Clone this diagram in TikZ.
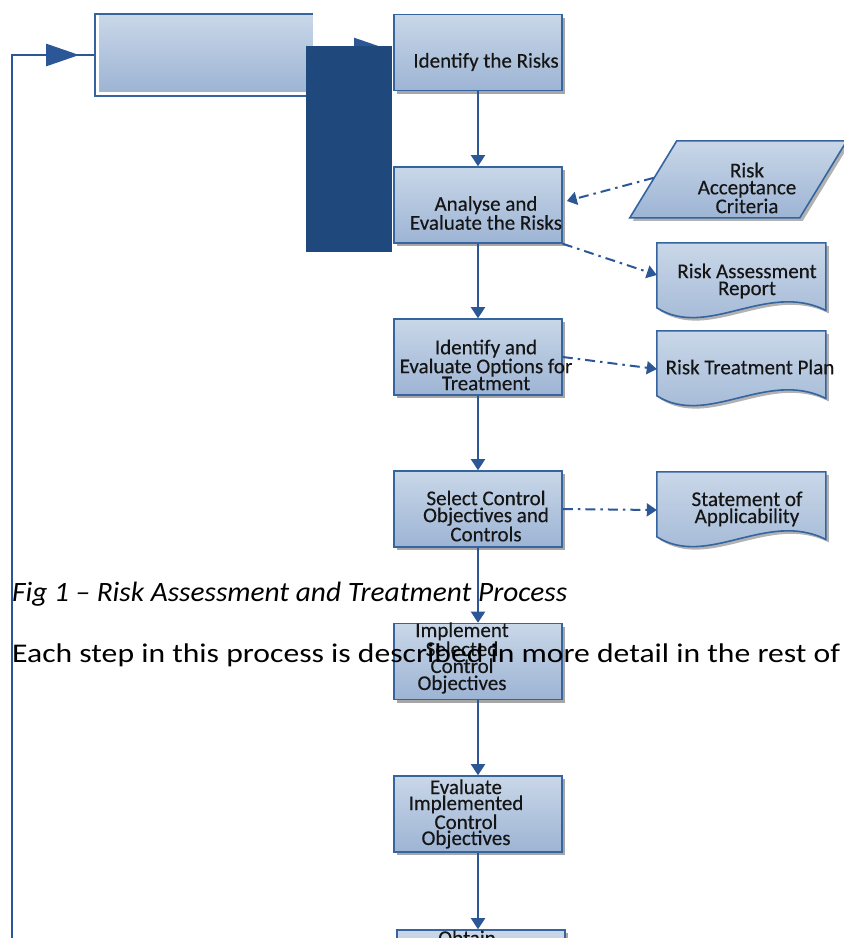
\documentclass[tikz,border=0pt]{standalone}
\usepackage{fontspec}
\setmainfont{Carlito}
\newfontfamily\labelfont[FakeBold=0.3]{Carlito}
\usetikzlibrary{arrows.meta,calc,shadows,decorations.markings}

\definecolor{flowblue}{HTML}{2B5797}
\definecolor{edgeblue}{HTML}{35649F}
\definecolor{fillTop}{HTML}{C9D7E8}
\definecolor{fillBot}{HTML}{9DB4D4}
\definecolor{navy}{HTML}{1F497D}
\definecolor{inkgray}{HTML}{151515}

\tikzset{
  procbox/.style={draw=edgeblue, line width=1.6pt, top color=fillTop, bottom color=fillBot,
    minimum width=168pt, minimum height=76pt, inner sep=0pt,
    drop shadow={shadow xshift=3pt, shadow yshift=-3pt, opacity=0.35, fill=black}},
  boxtext/.style={align=center, text=inkgray, font=\labelfont\fontsize{21}{17}\selectfont, inner sep=0pt},
  flow/.style={color=flowblue, line width=2pt, -{Triangle[length=11pt,width=14pt]}},
  feed/.style={color=flowblue, line width=2pt, dash pattern=on 10pt off 5pt on 2.5pt off 5pt,
    -{Triangle[length=10pt,width=13pt]}},
  area/.style={inner sep=0pt, draw=none},
  outline/.style={draw=edgeblue, line width=1.6pt, top color=fillTop, bottom color=fillBot},
  shadowfill/.style={fill=black, opacity=0.3},
  loopline/.style={color=flowblue, line width=2.5pt},
}

\begin{document}
\begin{tikzpicture}[x=1pt,y=-1pt]
\fill[white] (0,0) rectangle (844,938);
\useasboundingbox (0,0) rectangle (844,938);

% start block with its open frame
\node[draw=edgeblue, line width=1.6pt, minimum width=217pt, minimum height=82pt, inner sep=0pt] (tl) at (203.5,55) {};
\fill[top color=fillTop, bottom color=fillBot] ([shift={(5,2)}]tl.north west) rectangle ([shift={(0,-5)}]tl.south east);

% process steps
\node[procbox] (b1) at (478,52.5) {};
\node[procbox] (b2) at (478,205) {};
\node[procbox] (b3) at (478,357) {};
\node[procbox] (b4) at (478,509) {};
\node[procbox] (b5) at (478,661.5) {};
\node[procbox] (b6) at (478,814) {};
\node[procbox] (b7) at (481,968) {};

% feedback loop into the start block
\coordinate (loopin) at (12,960);
\draw[loopline, postaction={decorate},
  decoration={markings, mark=at position -15pt with {\arrow{Triangle[length=33pt,width=22pt]}}}]
  (loopin) |- (tl.west);

% start block to first step
\draw[color=flowblue, line width=2pt, -{Triangle[length=33pt,width=22pt]}, shorten >=6pt]
  ([yshift=6pt]tl.east) -- ([yshift=3.5pt]b1.west);

% dark panel
\fill[navy] (306,46) rectangle (392,252);

% document outputs
\node[area, minimum width=169pt, minimum height=76pt] (rep) at (741.5,281) {};
\node[area, minimum width=169pt, minimum height=76pt] (plan) at (741.5,369) {};
\node[area, minimum width=169pt, minimum height=76pt] (soa) at (741.5,510) {};
\foreach \d in {rep,plan,soa}{
  \begin{scope}[shift={(\d.north west)}]
    \fill[shadowfill, shift={(3,3)}] (0,0) -- (169,0) -- (169,67.6) .. controls (110,38) and (50.7,97) .. (0,65) -- cycle;
    \draw[outline] (0,0) -- (169,0) -- (169,67.6) .. controls (110,38) and (50.7,97) .. (0,65) -- cycle;
  \end{scope}
}

% acceptance criteria input
\node[area, minimum width=217pt, minimum height=77pt] (crit) at (738.5,179.5) {};
\begin{scope}[shift={(crit.north west)}]
  \fill[shadowfill, shift={(3,3)}] (47,0) -- (217,0) -- (170,77) -- (0,77) -- cycle;
  \draw[outline] (47,0) -- (217,0) -- (170,77) -- (0,77) -- cycle;
  \coordinate (critL) at (24,37);
\end{scope}

% labels
\node[boxtext] (t1) at (486,62) {Identify the Risks};
\node[boxtext] (t2) at (486,213) {Analyse and\\Evaluate the Risks};
\node[boxtext] (t3) at (486,365) {Identify and\\Evaluate Options for\\Treatment};
\node[boxtext] (t4) at (486,516) {Select Control\\Objectives and\\Controls};
\node[boxtext] (t5) at (462,658) {Implement\\Selected\\Control\\Objectives};
\node[boxtext, font=\labelfont\fontsize{21}{16}\selectfont] (t6) at (466,814) {Evaluate\\Implemented\\Control\\Objectives};
\node[boxtext, anchor=base] (t7) at (467,945) {Obtain};
\node[boxtext] (d1) at (747,188) {Risk\\Acceptance\\Criteria};
\node[boxtext] (d2) at (747,281) {Risk Assessment\\Report};
\node[boxtext] (d3) at (750,367) {Risk Treatment Plan};
\node[boxtext] (d4) at (747,509) {Statement of\\Applicability};

% main flow
\draw[flow] (b1.south) -- (b2.north);
\draw[flow] (b2.south) -- (b3.north);
\draw[flow] (b3.south) -- (b4.north);
\draw[flow] (b4.south) -- (b5.north);
\draw[flow] (b5.south) -- (b6.north);
\draw[flow] (b6.south) -- ([xshift=-3pt]b7.north);

% inputs and outputs
\draw[feed] (critL) -- ([shift={(4,-4)}]b2.east);
\draw[feed] (b2.south east) -- ([yshift=6pt]rep.west);
\draw[feed] (b3.east) -- (plan.west);
\draw[feed] (b4.east) -- (soa.west);

% running text
\node[anchor=base west, inner sep=0pt] (cap) at (12,601)
  {\resizebox{555pt}{\height}{\fontsize{28}{32}\selectfont\itshape Fig 1 – Risk Assessment and Treatment Process}};
\node[anchor=base west, inner sep=0pt] (body) at (12,662)
  {\resizebox{828pt}{\height}{\fontsize{27}{32}\selectfont Each step in this process is described in more detail in the rest of}};
\end{tikzpicture}
\end{document}
